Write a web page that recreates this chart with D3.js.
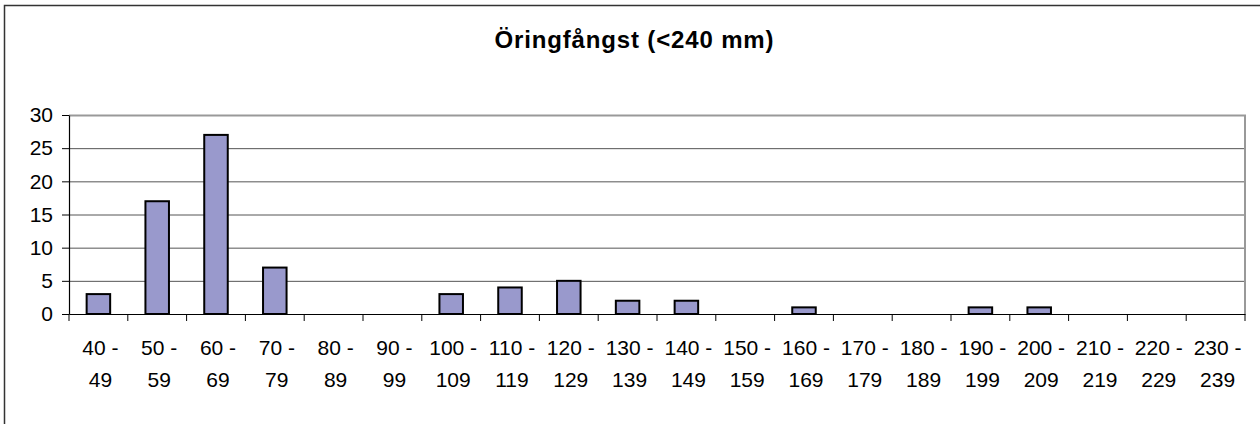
<!DOCTYPE html>
<html>
<head>
<meta charset="utf-8">
<script src="https://cdn.jsdelivr.net/npm/d3@7"></script>
<style>
  html, body { margin: 0; padding: 0; background: #fff; }
  svg { display: block; font-family: "Liberation Sans", Arial, sans-serif; }
</style>
</head>
<body>
<svg id="chart" width="1260" height="424"></svg>
<script>
const title = "Öringfångst (<240 mm)";
const categories = ["40 - 49","50 - 59","60 - 69","70 - 79","80 - 89","90 - 99",
  "100 - 109","110 - 119","120 - 129","130 - 139","140 - 149","150 - 159",
  "160 - 169","170 - 179","180 - 189","190 - 199","200 - 209","210 - 219",
  "220 - 229","230 - 239"];
const counts = [3,17,27,7,0,0,3,4,5,2,2,0,1,0,0,1,1,0,0,0];
const yTicks = [0,5,10,15,20,25,30];

const svg = d3.select("#chart");
const plot = {left: 69, right: 1245, top: 115, bottom: 314};

// outer chart border (left & top visible)
svg.append("path")
  .attr("d", `M4.5,424 V5.5 H1260`)
  .attr("fill", "none").attr("stroke", "#333").attr("stroke-width", 1.5);

const x = d3.scaleBand().domain(categories).range([plot.left, plot.right]).padding(0);
const y = d3.scaleLinear().domain([0, 30]).range([plot.bottom, plot.top]);

// gridlines
svg.append("g").selectAll("line").data(yTicks.filter(d => d > 0)).join("line")
  .attr("x1", plot.left).attr("x2", plot.right)
  .attr("y1", d => y(d) + 0.5).attr("y2", d => y(d) + 0.5)
  .attr("stroke", "#555").attr("stroke-width", 1);

// plot area border right/top (gray)
svg.append("path")
  .attr("d", `M${plot.left},${plot.top + 0.5} H${plot.right} V${plot.bottom}`)
  .attr("fill", "none").attr("stroke", "#999").attr("stroke-width", 2);

// bars
const bw = x.bandwidth() / 2.5;
svg.append("g").selectAll("rect").data(counts.map((v, i) => ({v, c: categories[i]})).filter(d => d.v > 0))
  .join("rect")
  .attr("x", d => x(d.c) + (x.bandwidth() - bw) / 2)
  .attr("y", d => y(d.v))
  .attr("width", bw)
  .attr("height", d => y(0) - y(d.v))
  .attr("fill", "#9999cc")
  .attr("stroke", "#000").attr("stroke-width", 2);

// y axis
const yAxis = d3.axisLeft(y).tickValues(yTicks).tickSize(7).tickPadding(10).tickSizeOuter(0);
const gy = svg.append("g").attr("transform", `translate(${plot.left},0)`).call(yAxis);
gy.select(".domain").attr("stroke", "#000").attr("stroke-width", 1.2);
gy.selectAll(".tick line").attr("stroke", "#000");
gy.selectAll(".tick text").attr("font-size", 21).attr("fill", "#000")
  .attr("font-family", "Liberation Sans, Arial, sans-serif").attr("x", -16);

// x axis
const xAxis = d3.axisBottom(x).tickSize(0).tickFormat("");
const gx = svg.append("g").attr("transform", `translate(0,${plot.bottom})`).call(xAxis);
gx.select(".domain").attr("stroke", "#000").attr("stroke-width", 1.2);
gx.selectAll(".tick").remove();

// boundary ticks
const boundaries = categories.map(c => x(c)).concat([plot.right]);
svg.append("g").selectAll("line").data(boundaries).join("line")
  .attr("x1", d => d).attr("x2", d => d)
  .attr("y1", plot.bottom).attr("y2", plot.bottom + 7)
  .attr("stroke", "#000").attr("stroke-width", 1);

// x labels, two lines
const lab = svg.append("g").attr("font-size", 21).attr("fill", "#000").attr("text-anchor", "middle");
categories.forEach(c => {
  const parts = c.split(" - ");
  const cx = x(c) + x.bandwidth() / 2;
  lab.append("text").attr("x", cx + 2).attr("y", 355).text(parts[0] + " -");
  lab.append("text").attr("x", cx + 2).attr("y", 387).text(parts[1]);
});

// title
svg.append("text")
  .attr("x", 634).attr("y", 48)
  .attr("text-anchor", "middle")
  .attr("font-size", 24).attr("font-weight", "bold")
  .attr("textLength", 279).attr("lengthAdjust", "spacing")
  .text(title);
</script>
</body>
</html>
